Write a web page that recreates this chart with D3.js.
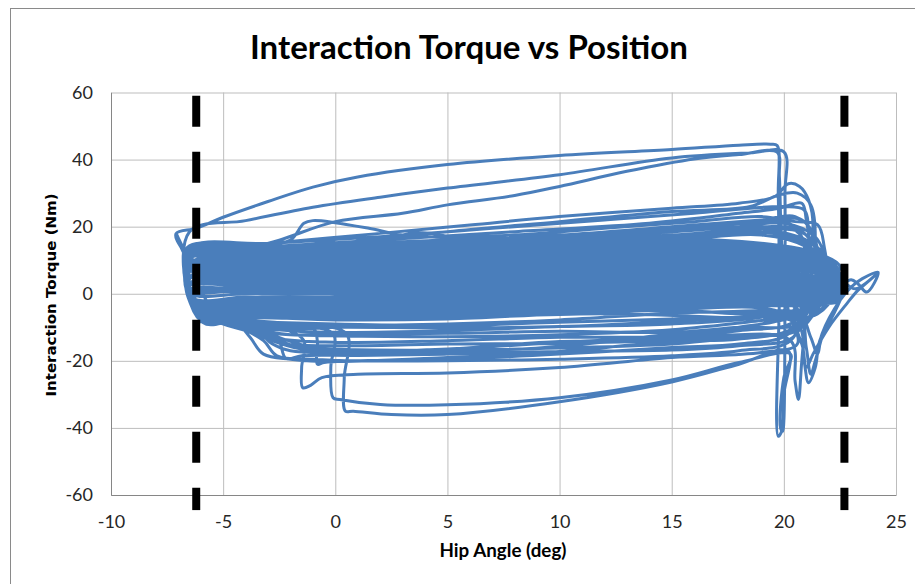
<!DOCTYPE html>
<html lang="en">
<head>
<meta charset="UTF-8">
<script src="https://cdn.jsdelivr.net/npm/d3@7"></script>
<title>Interaction Torque vs Position</title>
<style>
    body { margin: 0; background: #fff; }
    svg { display: block; }
    .tick text { font-family: "Lato", sans-serif; font-size: 18px; fill: #262626; }
    .grid line { stroke: #bdbdbd; stroke-width: 1; }
    .grid path { display: none; }
    .axis path { stroke: #868686; stroke-width: 1; }
</style>
</head>
<body>
<svg width="915" height="584"></svg>
<script>
    // axis ticks
    const xTicks = [-10, -5, 0, 5, 10, 15, 20, 25];
    const yTicks = [-60, -40, -20, 0, 20, 40, 60];

    // limits of the gait range (dashed markers)
    const boundAngles = [-6.2, 22.7];
    const boundTorque = [59, -64.5];

    // dense band of ordinary strides: [hip angle, torque]
    const coreStrides = [
        [[-6.5,13.5],[-3,12.6],[3,12.8],[10,13.6],[17,15.2],[21.9,11],[22.5,8],[21.7,2.5],[20,3],[13,1],[6,-0.5],[0,-1.5],[-4,-2],[-6.1,-3]],
        [[-6.4,12.8],[-3,12],[3,12.1],[10,13],[17,14.3],[22,10.5],[22.4,6],[21.6,0.5],[20,1],[13,-1],[6,-3],[0,-4],[-4,-4.5],[-6,-5]],
        [[-6.6,12.2],[-3,11.5],[3,11.6],[10,12.2],[17,13.6],[21.8,10],[22.6,4],[21.8,-1.5],[20,-1],[13,-2.6],[6,-5],[0,-6.6],[-4,-7],[-5.9,-8.6]],
        [[-6.5,11.6],[-3,11],[3,11],[10,11.8],[17,13],[21.9,10],[22.3,5],[21.6,1.5],[20,2],[13,0],[6,-2],[0,-3],[-4,-3.4],[-6.2,-4]],
        [[-6.4,11],[-3,10.5],[3,10.5],[10,11.2],[17,12.5],[22.1,9.5],[22.5,3],[21.7,-0.5],[20,0],[13,-2],[6,-4],[0,-5.5],[-4,-6],[-6,-7]],
        [[-6.5,10.5],[-3,10],[3,10],[10,10.6],[17,12],[21.8,9],[22.6,4],[21.8,-2.5],[20,-2],[13,-3.6],[6,-6],[0,-7.4],[-4,-6.6],[-5.9,-8.2]],
        [[-6.6,10],[-3,9.5],[3,9.6],[10,10.2],[17,11.5],[22,9],[22.4,2],[21.6,2],[20,2.5],[13,1],[6,-1],[0,-2.4],[-4,-2.5],[-6.3,-2]],
        [[-6.4,9.5],[-3,9],[3,9.1],[10,10],[17,11],[21.9,8.5],[22.5,1],[21.8,-3],[20,-3],[13,-4.5],[6,-6.5],[0,-7.6],[-4,-7.2],[-5.9,-8.6]],
        [[-6.5,9],[-3,8.5],[3,8.6],[10,9.5],[17,10.5],[22.1,8],[22.3,2],[21.7,1],[20,1.5],[13,0],[6,-1.5],[0,-3],[-4,-3],[-6.2,-3.5]],
        [[-6.5,8.5],[-3,8],[3,8.1],[10,9],[17,10],[21.8,7.5],[22.6,0],[21.8,-3],[20,-2.5],[13,-4],[6,-5.5],[0,-6.5],[-4,-6],[-6,-7.5]],
        [[-6.6,8],[-3,7.5],[3,7.6],[10,8.5],[17,9.5],[22,7],[22.4,1],[21.6,2.5],[20,3],[13,2],[6,0.5],[0,-1],[-4,-1.5],[-6.4,-1]],
        [[-6.4,7.5],[-3,7],[3,7.1],[10,8],[17,9],[21.9,7],[22.5,-1],[21.7,-2],[20,-1.5],[13,-3],[6,-5],[0,-6],[-4,-5.5],[-6,-6]],
        [[-6.5,7],[-3,6.5],[3,6.6],[10,7.5],[17,8.5],[22.1,6.5],[22.3,0],[21.8,0],[20,0.5],[13,-1],[6,-2.5],[0,-4],[-4,-4],[-6.1,-5]],
        [[-6.5,6.5],[-3,6],[3,6.1],[10,7],[17,8],[21.8,6],[22.6,-1],[21.6,-3.5],[20,-3.5],[13,-4.6],[6,-7],[0,-7.6],[-4,-6.6],[-5.9,-8]],
        [[-6.6,6],[-3,5.5],[3,5.6],[10,6.5],[17,7.5],[22,5.5],[22.4,1],[21.7,1.5],[20,2],[13,1],[6,-0.5],[0,-2],[-4,-2],[-6.3,-2.5]],
        [[-6.4,5.5],[-3,5],[3,5.1],[10,6],[17,7],[21.9,5],[22.5,-2],[21.8,-1.5],[20,-1],[13,-2.5],[6,-4],[0,-5],[-4,-5],[-6,-5.5]],
        [[-6.5,5],[-3,4.5],[3,4.6],[10,5.5],[17,6.5],[22.1,5],[22.3,0],[21.6,3],[20,3.5],[13,2.5],[6,1.5],[0,0.5],[-4,0],[-6.4,0]],
        [[-6.5,4.5],[-3,4],[3,4.1],[10,5],[17,6],[21.8,4.5],[22.6,-1],[21.7,-2.5],[20,-2],[13,-3.5],[6,-5.5],[0,-7],[-4,-7],[-5.9,-8]],
        [[-6.6,4],[-3,3.5],[3,3.6],[10,4.5],[17,5.5],[22,4],[22.4,0],[21.8,0.5],[20,1],[13,-0.5],[6,-2],[0,-3.5],[-4,-3.5],[-6.2,-4]],
        [[-6.4,3.5],[-3,3],[3,3.1],[10,4],[17,5],[21.9,3.5],[22.5,-2],[21.6,-3],[20,-3],[13,-4],[6,-6],[0,-7],[-4,-6.5],[-6,-7]],
        [[-6.5,3],[-3,2.5],[3,2.6],[10,3.5],[17,4.5],[22.1,3],[22.3,0],[21.7,2],[20,2.5],[13,1.5],[6,0],[0,-1],[-4,-1],[-6.3,-1.5]],
        [[-6.5,2.5],[-3,2],[3,2.1],[10,3],[17,4],[21.8,2.5],[22.6,-1],[21.8,-1],[20,-0.5],[13,-2],[6,-3.5],[0,-4.5],[-4,-4.5],[-6.1,-5]],
        [[-6.6,2],[-3,1.5],[3,1.6],[10,2.5],[17,3.5],[22,2],[22.4,0],[21.6,3.5],[20,4],[13,3],[6,2],[0,1],[-4,1],[-6.4,0.5]],
        [[-6.4,1.5],[-3,1],[3,1.1],[10,2],[17,3],[21.9,1.5],[22.5,-2],[21.7,-2],[20,-1.5],[13,-3],[6,-4.5],[0,-6],[-4,-5.5],[-6,-6.5]],
        [[-6.5,1],[-3,0.5],[3,0.6],[10,1.5],[17,2.5],[22.1,1],[22.3,0],[21.8,1],[20,1.5],[13,0.5],[6,-1],[0,-2],[-4,-2],[-6.2,-2.5]],
        [[-6.5,0.5],[-3,0],[3,0.1],[10,1],[17,2],[21.8,0.5],[22.6,-1],[21.6,-3],[20,-2.5],[13,-4],[6,-5],[0,-6.5],[-4,-6],[-6,-7]],
        [[-6.6,13.8],[-3,12.2],[3,12.5],[10,14],[17,16],[21.7,11.5],[22.4,7],[21.7,0],[20,0.5],[13,-1.5],[6,-3.5],[0,-5],[-4,-5.5],[-6.1,-6]],
        [[-6.5,12.4],[-3,11.2],[3,11.5],[10,12.6],[17,14.6],[21.9,10.5],[22.5,5],[21.8,-2],[20,-1.5],[13,-3],[6,-4.5],[0,-5.5],[-4,-5],[-6,-5.5]]
    ];

    // strides that leave the band (above 14 Nm or below -8 Nm)
    const midStrides = [
        [[-6.5,13],[-3,15],[2,18],[6,20.5],[10,23],[15,25.5],[18,27],[19.6,29],[20.2,32.8],[20.7,32],[21.1,28],[21.3,20],[21,8],[20.3,-6],[18,-10],[15,-12],[10,-15.7],[5,-17.3],[1,-17.5],[-1.5,-16.5],[-3,-13.5],[-4.5,-9],[-6,-5],[-6.6,1]],
        [[-6.4,12.5],[-3,13.5],[1,15.5],[5,18.5],[10,21.5],[15,24.5],[18.5,26],[19.8,29.5],[20.6,30],[21.2,26.5],[21.4,15],[21.1,2],[20.8,-20],[20.65,-31.5],[20.5,-26],[20.3,-14],[17,-12.5],[13,-14.2],[10,-14.2],[5,-16.5],[1,-17],[-1,-16],[-3,-12],[-5,-8],[-6.3,-3],[-6.6,3]],
        [[-6.5,14],[-3.5,14.5],[-2,16],[-1.4,21],[-1,21.8],[0,21.2],[1.5,19.5],[3,17.5],[5,16.8],[8,17.5],[12,19.5],[16,21.5],[19,23],[20.5,21.5],[21.5,20.6],[21.8,14],[21.9,5],[21.2,-5],[19,-6.5],[15,-8.2],[10,-9.8],[5,-10.2],[0,-10],[-2,-10.5],[-3.5,-9],[-5,-7],[-6.4,-2]],
        [[-6.3,13],[-3,14],[-1,14.8],[0,16.2],[0.6,16.8],[1.5,16],[2.5,16.5],[3.5,18.2],[4.5,17.8],[6,15.5],[10,16],[15,17.5],[19,19],[21,16],[22,10],[22.3,3],[21.5,-4],[19,-5],[15,-5.8],[10,-7.8],[5,-9],[0,-9.5],[-2.5,-9.5],[-4.5,-8],[-6.2,-3]],
        [[-6.4,12],[-3,13],[2,14.5],[8,16],[14,19],[18.5,21],[20.5,20],[21.5,12],[21.4,0],[20.5,-10],[18,-13.5],[15,-14.2],[10,-17.2],[5,-19],[0,-20.2],[-2,-19.5],[-3.2,-18],[-3.8,-13],[-4.5,-8],[-6,-5],[-6.6,0]],
        [[-6.5,11],[-3,12.5],[3,14],[9,15],[15,16],[19,17.5],[21,14],[22,8],[22.2,0],[21.5,-6],[19,-8],[15,-10.7],[10,-12.2],[5,-12.8],[0,-12.5],[-2.5,-12],[-3.8,-10.5],[-5,-8],[-6.4,-3]],
        [[-6.4,11.8],[-3,12.2],[3,13.2],[10,14.8],[16,17],[19.5,19.5],[21,17.5],[21.8,9],[21.7,-2],[20.8,-9],[18,-10],[15,-11.5],[10,-11.2],[5,-11.8],[0,-12],[-2,-12.2],[-3.2,-11],[-5,-8.5],[-6.3,-2]],
        [[-6.5,12.6],[-3,13.2],[3,14.8],[10,16.5],[15,19],[19,21.5],[20.8,22],[21.4,16],[21.5,4],[20.8,-10],[18,-12.5],[15,-13.8],[10,-14.8],[5,-15],[0,-15.5],[-2.2,-15],[-3.3,-12.5],[-4.8,-8.5],[-6.4,-2]],
        [[-6,12],[-4,13.5],[-2.5,16],[0,21.5],[3,24],[5,26.5],[8,29.3],[10,32],[13,36.5],[16,40.2],[18,41.5],[19.7,42.2],[19.8,35],[19.9,15],[20.2,-5],[20.6,-15],[19,-17.5],[15,-19],[10,-22],[5,-23.6],[1,-24],[-0.6,-25],[-1.1,-27.3],[-1.45,-28],[-1.5,-22],[-1.4,-14],[-2.5,-10],[-4.5,-7.5],[-6.2,-3]],
        [[-6.4,11.5],[-3,12],[3,13],[10,14.5],[16,16.5],[19.5,18],[21.2,13],[22,5],[21.5,-3],[19,-7],[15,-9],[10,-9.8],[5,-11],[0,-11.5],[-2,-11],[-3.5,-10],[-5.5,-7.5],[-6.4,-2]],
        [[-6.4,13],[-3,13.5],[3,15.5],[10,17.5],[15,20],[19,22],[20.5,23],[21.3,18],[21.5,5],[21,-5],[19,-9],[15,-12.5],[10,-14.5],[5,-16.5],[0,-17.5],[-2,-17],[-2.8,-15],[-3.5,-11],[-5,-8],[-6.3,-3]],
        [[-6.3,12.2],[-3,12.8],[3,14.2],[10,16.2],[15,18.5],[19,20],[20.5,19],[21.2,10],[21,-4],[20.4,-13],[18,-15.5],[15,-16.8],[10,-17.2],[5,-18],[1,-18.4],[-1.5,-18.5],[-2.2,-19.3],[-2.5,-14],[-3,-10],[-5,-8],[-6.4,-2]],
        [[-6.4,12.5],[-3,14],[2,16],[8,18.5],[14,21],[18,24],[19.8,25.5],[20.8,27],[21,22],[21.2,10],[21,-2],[20.2,-12],[18,-15],[15,-16],[10,-18],[5,-19.5],[1,-20],[-0.5,-20.5],[-0.8,-21],[-0.8,-14],[-1,-10],[-3,-8.5],[-5.5,-7],[-6.5,-1]],
        [[-6.5,11.5],[-3,12],[3,13.5],[10,15.5],[15,17],[19,18.5],[21,15],[21.8,6],[21.5,-4],[20.6,-11],[18,-13],[15,-15],[10,-16.2],[5,-16.8],[0,-16.5],[-2,-15.2],[-3,-12],[-4.8,-9],[-6.3,-3]],
        [[-6.5,13.5],[-3,15],[2,17],[7,19.5],[12,22],[16,24],[18.5,25.5],[20,26],[20.9,25],[21.1,18],[21,5],[20.5,-8],[18,-11],[15,-12.8],[10,-13],[5,-14],[0,-14.5],[-2.5,-13.5],[-4,-11],[-5.5,-7.5],[-6.5,-1]],
        [[-6.4,12.5],[-3,13],[3,14],[10,16.8],[15,19.2],[19,21.5],[20.5,20],[21,11],[20.8,-3],[20.3,-14],[18,-17],[15,-18.5],[10,-19.5],[5,-20],[1,-20],[-1,-19.5],[-2.6,-18.5],[-3.2,-14],[-4.5,-9],[-6.3,-2]],
        [[-6.4,12],[-3,12.5],[3,13.5],[9,15.5],[14,18],[18,20],[20,21],[21.4,17],[22,8],[22.3,1],[21.8,-4],[19.5,-6.5],[15,-7.5],[10,-8.5],[5,-9.5],[0,-9],[-3,-8.5],[-5,-8],[-6.6,10],[-7.1,17.9]]
    ];

    // the two largest strides, starting from the far left tip
    const outerStrides = [
        [[-6.5,18.5],[-4,21.8],[-1,25.8],[2,28.8],[5,31.5],[10,35.5],[15,40.5],[18.5,42],[20,42.3],[20.05,30],[20.05,0],[20,-38],[19.95,-41],[19.85,-40],[20,-25],[20.3,-18],[18,-20.5],[15,-25.7],[10,-31],[5,-33.1],[2,-33],[0.2,-31.5],[-0.1,-31],[-0.2,-22],[-0.1,-12],[-2.5,-9.5],[-5,-7],[-6.4,-2],[-6.6,10],[-7.1,17.9]],
        [[-6.2,19.5],[-5,22.8],[-3,27.5],[-1,31.8],[1,34.8],[5,38.5],[10,41.2],[15,43],[18,44.3],[19.4,44.6],[19.7,44.2],[19.75,30],[19.8,0],[19.75,-42.5],[19.9,-41],[20,-30],[20.2,-17],[18,-21],[15,-26.3],[10,-32.2],[5,-36],[2.5,-36],[0.8,-35],[0.45,-35],[0.4,-25],[0.5,-12],[-2,-9],[-4.5,-7],[-6.3,-2]]
    ];

    // strides reaching past the right marker
    const tailStrides = [
        [[-6.3,10],[-3,10],[3,10.5],[10,11.5],[16,12.5],[20,12],[22,8.5],[22.6,4],[23.2,1.5],[24.2,6.3],[23.7,3.3],[23.3,1],[22.8,-3],[22,-10],[21.3,-18],[21,-22],[20.8,-15],[20,-6],[15,-4.5],[10,-5],[5,-7],[0,-7],[-4,-6.5],[-6,-6]],
        [[-6.5,8],[-3,8],[3,8.5],[10,9.5],[16,10.5],[20,10],[22,6],[22.3,2],[23,4.2],[23.3,3],[23.7,0.5],[24.2,6.4],[23.5,4.5],[23,2],[22.5,-2],[21.7,-12],[21.5,-18],[21.2,-13],[20.5,-4],[15,-3],[10,-4],[5,-6],[0,-6.5],[-4,-6],[-6.2,-5]],
        [[-6.4,9],[-3,9],[3,9.5],[10,10.5],[16,11.5],[20,11],[22,7],[22.5,2],[22.4,-3],[21.9,-9],[21.4,-20],[21.2,-24],[21,-16],[20.7,-7],[18,-6],[15,-5],[10,-6],[5,-7.5],[0,-7.8],[-4,-7],[-6,-8]],
        [[-6.5,7],[-3,7],[3,7.5],[10,8.5],[16,9.5],[20,9],[22,6],[22.6,1],[22.3,-5],[21.6,-14],[21.4,-22],[21.1,-26.5],[20.9,-20],[20.6,-9],[17,-7],[12,-6],[6,-7],[0,-7.5],[-4,-7.2],[-6.1,-8.4]]
    ];

    const margin = {left: 111, right: 896, top: 92.5, bottom: 495};
    const svg = d3.select("svg");

    const x = d3.scaleLinear().domain([-10, 25]).range([margin.left, margin.right]);
    const y = d3.scaleLinear().domain([-60, 60]).range([margin.bottom, margin.top]);

    // outer frame of the chart
    svg.append("rect")
        .attr("x", 10.5).attr("y", 8.5)
        .attr("width", 1000).attr("height", 1000)
        .attr("fill", "none")
        .attr("stroke", "#8a8a8a");

    // gridlines
    svg.append("g")
        .attr("class", "grid")
        .attr("transform", `translate(0, ${margin.bottom})`)
        .call(d3.axisBottom(x).tickValues(xTicks).tickSize(-(margin.bottom - margin.top)).tickFormat(""));
    svg.append("g")
        .attr("class", "grid")
        .attr("transform", `translate(${margin.left}, 0)`)
        .call(d3.axisLeft(y).tickValues(yTicks).tickSize(-(margin.right - margin.left)).tickFormat(""));

    // axes (plain hyphen for negative labels)
    svg.append("g")
        .attr("class", "axis")
        .attr("transform", `translate(0, ${margin.bottom})`)
        .call(d3.axisBottom(x).tickValues(xTicks).tickSize(0).tickPadding(20).tickFormat(d => String(d)));
    svg.append("g")
        .attr("class", "axis")
        .attr("transform", `translate(${margin.left}, 0)`)
        .call(d3.axisLeft(y).tickValues(yTicks).tickSize(0).tickPadding(18).tickFormat(d => String(d)));

    // the trace
    const strides = [].concat(coreStrides.slice(0, 14), midStrides.slice(0, 8), outerStrides,
        coreStrides.slice(14), midStrides.slice(8), tailStrides);
    const trace = strides.flat();

    const line = d3.line()
        .x(d => x(d[0]))
        .y(d => y(d[1]))
        .curve(d3.curveCatmullRom.alpha(0.5));

    svg.append("path")
        .datum(trace)
        .attr("d", line)
        .attr("fill", "none")
        .attr("stroke", "#4a7ebb")
        .attr("stroke-width", 3)
        .attr("stroke-linejoin", "round")
        .attr("stroke-linecap", "round");

    // dashed range markers
    boundAngles.forEach(a => {
        svg.append("path")
            .datum(boundTorque.map(t => [a, t]))
            .attr("d", d3.line().x(d => x(d[0])).y(d => y(d[1])))
            .attr("stroke", "#000")
            .attr("stroke-width", 8)
            .attr("stroke-dasharray", "31,25");
    });

    // titles
    svg.append("text")
        .attr("x", 469).attr("y", 59)
        .attr("text-anchor", "middle")
        .attr("textLength", 438)
        .attr("lengthAdjust", "spacingAndGlyphs")
        .style("font-family", "Lato, sans-serif")
        .style("font-weight", "bold")
        .style("font-size", "33px")
        .text("Interaction Torque vs Position");

    svg.append("text")
        .attr("x", 503).attr("y", 557)
        .attr("text-anchor", "middle")
        .attr("textLength", 127)
        .attr("lengthAdjust", "spacingAndGlyphs")
        .style("font-family", "Lato, sans-serif")
        .style("font-weight", "bold")
        .style("font-size", "18px")
        .text("Hip Angle (deg)");

    svg.append("text")
        .attr("transform", "translate(56, 295) rotate(-90)")
        .attr("text-anchor", "middle")
        .attr("textLength", 203)
        .attr("lengthAdjust", "spacingAndGlyphs")
        .style("font-family", "'DejaVu Sans', sans-serif")
        .style("font-weight", "bold")
        .style("font-size", "14px")
        .text("Interaction Torque (Nm)");
</script>
</body>
</html>
